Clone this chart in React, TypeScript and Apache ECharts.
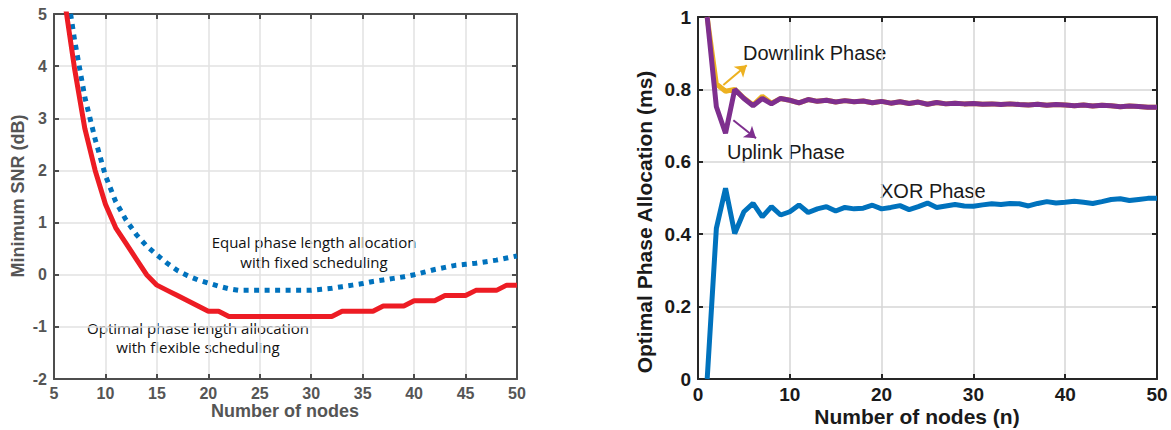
import React, { useEffect, useRef } from "react";
import * as echarts from "echarts";

// ---------- Left chart data ----------
const leftNodes = Array.from({ length: 45 }, (_, i) => i + 6);
const optimalSNR = [
  5.3, 3.95, 2.8, 2.0, 1.35, 0.9, 0.6, 0.3, 0.0, -0.2, -0.3, -0.4, -0.5, -0.6, -0.7, -0.7,
  -0.8, -0.8, -0.8, -0.8, -0.8, -0.8, -0.8, -0.8, -0.8, -0.8, -0.8,
  -0.7, -0.7, -0.7, -0.7,
  -0.6, -0.6, -0.6,
  -0.5, -0.5, -0.5,
  -0.4, -0.4, -0.4,
  -0.3, -0.3, -0.3,
  -0.2, -0.2,
];
const equalSNR = [
  5.8, 4.5, 3.4, 2.6, 1.9, 1.4, 1.05, 0.77, 0.55, 0.38, 0.22, 0.08, -0.02, -0.1, -0.16, -0.22, -0.27, -0.3,
  -0.3, -0.3, -0.3, -0.3, -0.3, -0.3, -0.3,
  -0.28, -0.26, -0.23, -0.2, -0.17, -0.13, -0.1, -0.07, -0.04, 0.0, 0.05, 0.1, 0.14, 0.18, 0.2, 0.22, 0.25, 0.28, 0.32, 0.36,
];
const leftXTicks = { min: 5, max: 50, interval: 5 };
const leftYTicks = { min: -2, max: 5, interval: 1 };

// ---------- Right chart data ----------
const rightNodes = Array.from({ length: 50 }, (_, i) => i + 1);
const uplink = [
  1.0, 0.752, 0.679, 0.8, 0.775, 0.755, 0.775, 0.76, 0.775, 0.77,
  0.763, 0.772, 0.767, 0.77, 0.765, 0.769, 0.766, 0.768, 0.763, 0.767,
  0.762, 0.766, 0.761, 0.765, 0.759, 0.764, 0.76, 0.762, 0.76, 0.761,
  0.759, 0.76, 0.758, 0.76, 0.758, 0.757, 0.759, 0.756, 0.758, 0.757,
  0.755, 0.757, 0.754, 0.756, 0.755, 0.752, 0.754, 0.753, 0.751, 0.751,
];
const downlink = [
  1.0, 0.815, 0.795, 0.8, 0.776, 0.757, 0.781, 0.762, 0.775, 0.77,
  0.763, 0.772, 0.767, 0.77, 0.765, 0.769, 0.766, 0.768, 0.763, 0.767,
  0.762, 0.766, 0.761, 0.765, 0.759, 0.764, 0.76, 0.762, 0.76, 0.761,
  0.759, 0.76, 0.758, 0.76, 0.758, 0.757, 0.759, 0.756, 0.758, 0.757,
  0.755, 0.757, 0.754, 0.756, 0.755, 0.752, 0.754, 0.753, 0.751, 0.751,
];
const xorPhase = [
  0, 0.416, 0.527, 0.402, 0.462, 0.485, 0.448, 0.476, 0.453, 0.462,
  0.481, 0.46, 0.47, 0.476, 0.464, 0.474, 0.47, 0.472, 0.48, 0.47,
  0.474, 0.479, 0.468, 0.476, 0.486, 0.474, 0.478, 0.482, 0.478, 0.477,
  0.481, 0.484, 0.482, 0.485, 0.484, 0.478, 0.485, 0.49, 0.486, 0.488,
  0.491, 0.488, 0.485, 0.49, 0.496, 0.498, 0.493, 0.496, 0.499, 0.499,
];
const rightXTicks = { min: 0, max: 50, interval: 10 };
const rightYTicks = { min: 0, max: 1, interval: 0.2 };

const downArrow = [[2.76, 0.812], [5.31, 0.867]];
const upArrow = [[3.85, 0.715], [6.32, 0.665]];

const FONT = '"Liberation Sans", Arial, Helvetica, sans-serif';
const ANNO_FONT = '"Open Sans", "Noto Sans", sans-serif';

const BLUE = "#0072BD";
const RED = "#ED1C24";
const PURPLE = "#7E2F8E";
const ORANGE = "#EDB120";

function pairs(xs: number[], ys: number[]) {
  return xs.map((x, i) => [x, ys[i]]);
}

export default function App() {
  const ref = useRef<HTMLDivElement>(null);
  useEffect(() => {
    document.body.style.margin = "0";
    const chart = echarts.init(ref.current!, null, { renderer: "svg" });

    const leftAxisColor = "#4d4d4d";
    const rightAxisColor = "#262626";

    const mkX = (gi: number, t: any, color: string, grid: string, labelColor: string, fs: number, pos: "bottom" | "top") => ({
      type: "value",
      gridIndex: gi,
      position: pos,
      min: t.min,
      max: t.max,
      interval: t.interval,
      axisLine: { show: true, onZero: false, lineStyle: { color, width: 2 } },
      axisTick: { show: true, inside: true, length: 5, lineStyle: { color, width: 2 } },
      axisLabel: {
        show: pos === "bottom",
        color: labelColor,
        fontFamily: FONT,
        fontWeight: "bold",
        fontSize: fs,
        margin: 6,
      },
      splitLine: { show: pos === "bottom", lineStyle: { color: grid, width: 1.5 } },
    });
    const mkY = (gi: number, t: any, color: string, grid: string, labelColor: string, fs: number, pos: "left" | "right") => ({
      type: "value",
      gridIndex: gi,
      position: pos,
      min: t.min,
      max: t.max,
      interval: t.interval,
      axisLine: { show: true, onZero: false, lineStyle: { color, width: 2 } },
      axisTick: { show: true, inside: true, length: 5, lineStyle: { color, width: 2 } },
      axisLabel: {
        show: pos === "left",
        color: labelColor,
        fontFamily: FONT,
        fontWeight: "bold",
        fontSize: fs,
        margin: 7,
      },
      splitLine: { show: pos === "left", lineStyle: { color: grid, width: 1.5 } },
    });

    chart.setOption({
      animation: false,
      backgroundColor: "#ffffff",
      grid: [
        { left: 54, top: 14, width: 463, height: 365 },
        { left: 698, top: 17, width: 459, height: 362 },
      ],
      xAxis: [
        mkX(0, leftXTicks, leftAxisColor, "#e2e2e2", "#555555", 16, "bottom"),
        mkX(0, leftXTicks, leftAxisColor, "#e2e2e2", "#555555", 16, "top"),
        mkX(1, rightXTicks, rightAxisColor, "#d6d6d6", "#1a1a1a", 19, "bottom"),
        mkX(1, rightXTicks, rightAxisColor, "#d6d6d6", "#1a1a1a", 19, "top"),
      ],
      yAxis: [
        mkY(0, leftYTicks, leftAxisColor, "#e2e2e2", "#555555", 16, "left"),
        mkY(0, leftYTicks, leftAxisColor, "#e2e2e2", "#555555", 16, "right"),
        mkY(1, rightYTicks, rightAxisColor, "#d6d6d6", "#1a1a1a", 19, "left"),
        mkY(1, rightYTicks, rightAxisColor, "#d6d6d6", "#1a1a1a", 19, "right"),
      ],
      series: [
        {
          name: "Equal phase length allocation with fixed scheduling",
          type: "line",
          xAxisIndex: 0,
          yAxisIndex: 0,
          data: pairs(leftNodes, equalSNR),
          showSymbol: false,
          smooth: false,
          lineStyle: { color: BLUE, width: 5, type: [5, 5.5], cap: "butt" },
          clip: true,
        },
        {
          name: "Optimal phase length allocation with flexible scheduling",
          type: "line",
          xAxisIndex: 0,
          yAxisIndex: 0,
          data: pairs(leftNodes, optimalSNR),
          showSymbol: false,
          lineStyle: { color: RED, width: 5 },
          clip: true,
        },
        {
          name: "Downlink Phase",
          type: "line",
          xAxisIndex: 2,
          yAxisIndex: 2,
          data: pairs(rightNodes, downlink),
          showSymbol: false,
          lineStyle: { color: ORANGE, width: 5 },
          markLine: {
            silent: true,
            symbol: ["none", "arrow"],
            symbolSize: 11,
            label: { show: false },
            lineStyle: { color: ORANGE, width: 2, type: "solid" },
            data: [[{ coord: downArrow[0] }, { coord: downArrow[1] }]],
          },
        },
        {
          name: "Uplink Phase",
          type: "line",
          xAxisIndex: 2,
          yAxisIndex: 2,
          data: pairs(rightNodes, uplink),
          showSymbol: false,
          lineStyle: { color: PURPLE, width: 5 },
          markLine: {
            silent: true,
            symbol: ["none", "arrow"],
            symbolSize: 11,
            label: { show: false },
            lineStyle: { color: PURPLE, width: 2, type: "solid" },
            data: [[{ coord: upArrow[0] }, { coord: upArrow[1] }]],
          },
        },
        {
          name: "XOR Phase",
          type: "line",
          xAxisIndex: 2,
          yAxisIndex: 2,
          data: pairs(rightNodes, xorPhase),
          showSymbol: false,
          lineStyle: { color: BLUE, width: 5 },
        },
      ],
      graphic: [
        // left axis titles
        { type: "text", x: 285, y: 411, style: { text: "Number of nodes", font: `bold 18px ${FONT}`, fill: "#555555", align: "center", verticalAlign: "middle" } },
        { type: "text", x: 18, y: 196, rotation: Math.PI / 2, style: { text: "Minimum SNR (dB)", font: `bold 18px ${FONT}`, fill: "#555555", align: "center", verticalAlign: "middle" } },
        // left annotations
        { type: "text", x: 314, y: 242, style: { text: "Equal phase length allocation", font: `15px ${ANNO_FONT}`, fill: "#111111", align: "center", verticalAlign: "middle" } },
        { type: "text", x: 314, y: 262, style: { text: "with fixed scheduling", font: `15px ${ANNO_FONT}`, fill: "#111111", align: "center", verticalAlign: "middle" } },
        { type: "text", x: 198, y: 328, style: { text: "Optimal phase length allocation", font: `15px ${ANNO_FONT}`, fill: "#111111", align: "center", verticalAlign: "middle" } },
        { type: "text", x: 198, y: 347, style: { text: "with flexible scheduling", font: `15px ${ANNO_FONT}`, fill: "#111111", align: "center", verticalAlign: "middle" } },
        // right axis titles
        { type: "text", x: 917, y: 416, style: { text: "Number of nodes (n)", font: `bold 21px ${FONT}`, fill: "#1a1a1a", align: "center", verticalAlign: "middle" } },
        { type: "text", x: 644, y: 222, rotation: Math.PI / 2, style: { text: "Optimal Phase Allocation (ms)", font: `bold 21px ${FONT}`, fill: "#1a1a1a", align: "center", verticalAlign: "middle" } },
        // right annotations
        { type: "text", x: 743, y: 53, style: { text: "Downlink Phase", font: `20px ${FONT}`, fill: "#1a1a1a", align: "left", verticalAlign: "middle" } },
        { type: "text", x: 727, y: 152, style: { text: "Uplink Phase", font: `20px ${FONT}`, fill: "#1a1a1a", align: "left", verticalAlign: "middle" } },
        { type: "text", x: 880, y: 191, style: { text: "XOR Phase", font: `20px ${FONT}`, fill: "#1a1a1a", align: "left", verticalAlign: "middle" } },
      ],
    });
    return () => chart.dispose();
  }, []);
  return <div ref={ref} style={{ width: 1171, height: 430 }} />;
}
